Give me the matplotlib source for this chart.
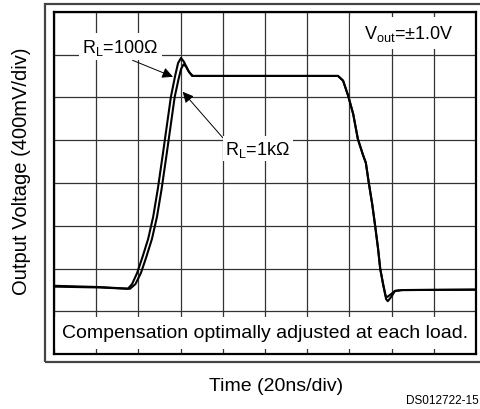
import matplotlib
matplotlib.use("Agg")
import matplotlib.pyplot as plt
from matplotlib.patches import Rectangle

plt.rcParams['font.family'] = ['Liberation Sans', 'DejaVu Sans']

# time and voltage in screen divisions (20ns/div, 400mV/div)
t_100 = [0.00, 1.09, 1.75, 1.85, 1.97, 2.09, 2.23, 2.35, 2.46, 2.58, 2.68, 2.77, 2.87,
         2.94, 3.01, 3.08, 3.18, 3.27, 3.46, 6.73, 6.85, 6.97, 7.09, 7.20, 7.32, 7.39,
         7.46, 7.54, 7.61, 7.68, 7.73, 7.80, 7.87, 7.91, 7.99, 8.08, 8.25, 10.00]
v_100 = [1.58, 1.56, 1.53, 1.64, 1.90, 2.25, 2.69, 3.21, 3.86, 4.68, 5.38, 6.01, 6.50,
         6.80, 6.92, 6.83, 6.62, 6.50, 6.50, 6.50, 6.39, 6.04, 5.61, 5.03, 4.66, 4.47,
         4.00, 3.51, 3.00, 2.46, 2.00, 1.62, 1.29, 1.24, 1.34, 1.48, 1.50, 1.51]

t_1k = [0.00, 1.09, 1.80, 1.93, 2.06, 2.18, 2.32, 2.44, 2.55, 2.67, 2.77, 2.86, 2.95,
        3.01, 3.07, 3.13, 3.21, 3.29, 3.46, 6.73, 6.85, 6.97, 7.09, 7.20, 7.32, 7.39,
        7.46, 7.54, 7.61, 7.68, 7.73, 7.80, 7.86, 7.90, 7.98, 8.08, 8.25, 10.00]
v_1k = [1.60, 1.57, 1.53, 1.64, 1.90, 2.25, 2.69, 3.21, 3.86, 4.68, 5.38, 6.01, 6.42,
        6.66, 6.77, 6.72, 6.58, 6.50, 6.50, 6.50, 6.39, 6.04, 5.61, 5.03, 4.66, 4.47,
        4.00, 3.51, 3.00, 2.46, 2.00, 1.64, 1.36, 1.34, 1.40, 1.48, 1.50, 1.51]

fig = plt.figure(figsize=(4.81, 4.10), dpi=100)
ax = fig.add_axes([54 / 481, 1 - 355.3 / 410, 422 / 481, 342.6 / 410])

# outer frame of the scope screen
fig.patches.append(Rectangle((45 / 481, 1 - 363 / 410), 1.0, 358 / 410,
                             transform=fig.transFigure, fill=False,
                             edgecolor='#444444', lw=1.6))

ax.set_xlim(0, 10)
ax.set_ylim(0, 8)
ax.set_xticks(range(11))
ax.set_yticks(range(9))
ax.grid(True, color='#333333', lw=0.9)
ax.tick_params(length=0, labelbottom=False, labelleft=False)
for s in ax.spines.values():
    s.set_linewidth(1.6)

# white boxes for the text cells (grid ticks left visible at edges)
ax.add_patch(Rectangle((0, 0.12), 10, 0.76, facecolor='white', edgecolor='none', zorder=2.5))
ax.add_patch(Rectangle((7.02, 7.12), 2.98, 0.76, facecolor='white', edgecolor='none', zorder=2.5))

ax.plot(t_100, v_100, color='black', lw=1.5, zorder=4, solid_joinstyle='round')
ax.plot(t_1k, v_1k, color='black', lw=1.5, zorder=4, solid_joinstyle='round')

ax.text(5.0, 0.5, 'Compensation optimally adjusted at each load.', ha='center', va='center',
        fontsize=14, zorder=5)
ax.text(8.4, 7.5, r'V$_{\mathregular{out}}$=±1.0V', ha='center', va='center',
        fontsize=13, zorder=5)

arrow = dict(arrowstyle='-|>', mutation_scale=16, lw=0.7, color='black', shrinkA=0, shrinkB=0)
ax.annotate(r'R$_{\mathregular{L}}$=100Ω', xy=(2.82, 6.48), xytext=(1.57, 7.18),
            ha='center', va='center', fontsize=13, zorder=5,
            bbox=dict(facecolor='white', edgecolor='none', pad=2.5),
            arrowprops=dict(arrow, relpos=(0.55, 0.0)))
ax.annotate(r'R$_{\mathregular{L}}$=1kΩ', xy=(3.05, 6.13), xytext=(4.83, 4.8),
            ha='center', va='center', fontsize=13, zorder=5,
            bbox=dict(facecolor='white', edgecolor='none', pad=2),
            arrowprops=dict(arrow, relpos=(0.0, 0.9)))

fig.text(22 / 481, 1 - 171 / 410, 'Output Voltage (400mV/div)', rotation=90,
         ha='center', va='center', fontsize=14.5)
fig.text(276 / 481, 1 - 387 / 410, 'Time (20ns/div)', ha='center', va='center', fontsize=14)
fig.text(479 / 481, 1 - 401 / 410, 'DS012722-15', ha='right', va='center', fontsize=8.5)

fig.savefig('out.png', dpi=100)
